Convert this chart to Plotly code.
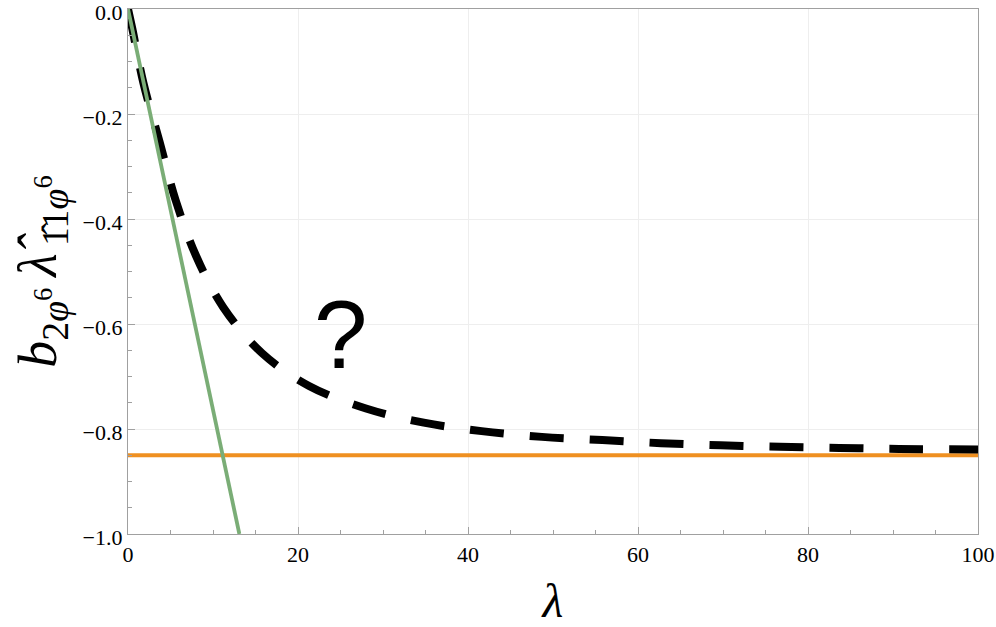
import plotly.graph_objects as go

# Data
lam_curve = [0, 0.5, 1.8, 3.7, 5.6, 8.0, 11.2, 15.8, 21.3, 28.0, 34.8, 41.6, 48.7,
             55.8, 62.7, 69.7, 76.7, 83.7, 90.7, 100]
val_curve = [0, -0.037, -0.14, -0.252, -0.364, -0.47, -0.568, -0.656, -0.718, -0.761,
             -0.788, -0.804, -0.815, -0.821, -0.827, -0.831, -0.834, -0.836, -0.838, -0.839]

lam_green = [0, 13.1]
val_green = [0, -1.0]

lam_orange = [0, 100]
val_orange = [-0.85, -0.85]

x_ticks = [0, 20, 40, 60, 80, 100]
y_ticks = [0, -0.2, -0.4, -0.6, -0.8, -1.0]
y_tick_text = ["0.0", "\u22120.2", "\u22120.4", "\u22120.6", "\u22120.8", "\u22121.0"]

SERIF = "Liberation Serif, Times New Roman, DejaVu Serif, serif"

fig = go.Figure()
fig.add_trace(go.Scatter(x=lam_orange, y=val_orange, mode="lines",
                         line=dict(color="#ef9021", width=4), hoverinfo="skip"))
fig.add_trace(go.Scatter(x=lam_curve, y=val_curve, mode="lines",
                         line=dict(color="black", width=8, dash="34px,26px", shape="spline"),
                         hoverinfo="skip"))
fig.add_trace(go.Scatter(x=lam_green, y=val_green, mode="lines",
                         line=dict(color="#7aad76", width=3.8), hoverinfo="skip"))

fig.add_annotation(x=25, y=-0.62, text="?", showarrow=False,
                   font=dict(family="Liberation Sans, Arial, sans-serif", size=96, color="black"))

axis_common = dict(
    showline=True, linecolor="#a0a0a0", linewidth=1.2, mirror=True,
    showgrid=True, gridcolor="#eeeeee", gridwidth=1,
    zeroline=False, ticks="inside", ticklen=7, tickcolor="#a0a0a0",
    tickfont=dict(family=SERIF, size=22, color="black"),
    ticklabeloverflow="allow", automargin=False,
)

fig.update_xaxes(range=[0, 100], tickvals=x_ticks, ticktext=[str(v) for v in x_ticks],
                 minor=dict(dtick=5, ticks="inside", ticklen=4, tickcolor="#a0a0a0", showgrid=False),
                 title=dict(text="<i>λ</i>", font=dict(family=SERIF, size=48, color="black"),
                            standoff=22),
                 **axis_common)
fig.update_yaxes(range=[-1.0, 0], tickvals=y_ticks, ticktext=y_tick_text,
                 ticklabelshift=3,
                 minor=dict(dtick=0.05, ticks="inside", ticklen=4, tickcolor="#a0a0a0", showgrid=False),
                 title=dict(text="<i>b</i><sub>2<i>φ</i><sup>6</sup></sub>\u2009<i>λ̂</i><sub>\u20091̂1<i>φ</i><sup>6</sup></sub>",
                            font=dict(family=SERIF, size=54, color="black"),
                            standoff=8),
                 **axis_common)

fig.update_layout(
    width=996, height=627,
    margin=dict(l=128, r=18, t=9, b=93),
    paper_bgcolor="white", plot_bgcolor="white",
    font=dict(family=SERIF, color="black"),
    showlegend=False,
)

fig.write_html("out.html", config={"displayModeBar": False},
               post_script="document.body.style.margin='0';")
